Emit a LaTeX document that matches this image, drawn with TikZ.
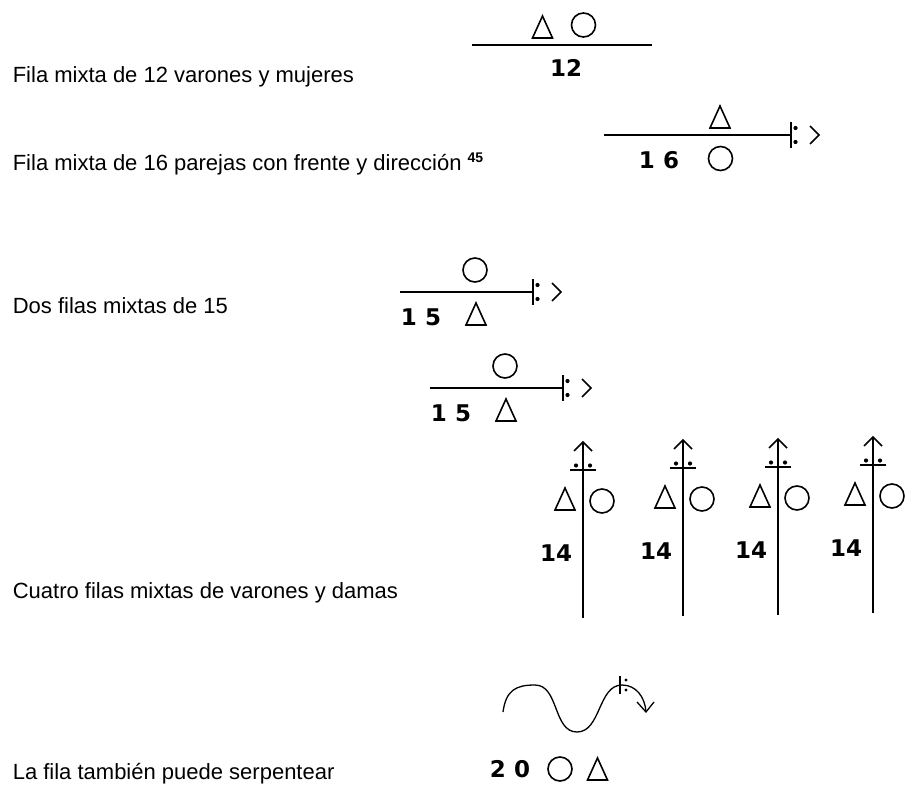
\documentclass[tikz,border=0pt]{standalone}
\usepackage{fontspec}
\setmainfont{Liberation Sans}
\newfontfamily\cifra{DejaVu Sans}
\tikzset{
  varon/.pic={\draw (-10,11)--(0,-11)--(10,11)--cycle;},
  dama/.pic={\draw (0,0) circle (12);},
  frente/.pic={
    \draw (0,-13)--(0,13);
    \fill (4.5,-7) circle (2.1) (4.5,7) circle (2.1);
    \draw (19,-9)--(28,0)--(19,9);},
  rotulo/.style={anchor=base west, inner sep=0pt, font=\fontsize{22}{26}\selectfont},
  num/.style={inner sep=0pt, font=\cifra\bfseries\fontsize{23}{23}\selectfont},
}
\begin{document}
\begin{tikzpicture}[x=1pt,y=-1pt,line width=1.6pt]
\useasboundingbox (0,0) rectangle (906,792);

\node[rotulo] (fila12) at (12,83) {Fila mixta de 12 varones y mujeres};
\node[rotulo] (fila16) at (12,170) {Fila mixta de 16 parejas con frente y dirección \raisebox{8pt}{\fontsize{14}{14}\selectfont\bfseries 45}};
\node[rotulo] (dos15) at (12,313) {Dos filas mixtas de 15};
\node[rotulo] (cuatro) at (12,598) {Cuatro filas mixtas de varones y damas};
\node[rotulo] (serp) at (12,779) {La fila también puede serpentear};

% fila de 12
\draw (472,45)--(652,45);
\pic at (542.5,27) {varon};
\pic at (583.5,25) {dama};
\node[num] (n12) at (566,68) {12};

% fila de 16
\draw (604,135)--(791,135);
\pic at (720,117) {varon};
\pic at (720.5,158.5) {dama};
\node[num] (n16) at (659,160) {1 6};
\pic at (791,135) {frente};

% dos filas de 15
\draw (400,292)--(533,292);
\pic at (475,270) {dama};
\pic at (476,314) {varon};
\node[num] (n15a) at (421,317) {1 5};
\pic at (533,292) {frente};

\draw (430,388)--(563,388);
\pic at (505,366) {dama};
\pic at (506,410) {varon};
\node[num] (n15b) at (451,413) {1 5};
\pic at (563,388) {frente};

% cuatro filas
\draw (583,443)--(583,618);
\pic[rotate=90] at (583,470) {frente};
\pic at (565,499) {varon};
\pic at (602,501) {dama};
\node[num] (n14a) at (556,553) {14};

\draw (683,441)--(683,616);
\pic[rotate=90] at (683,468) {frente};
\pic at (665,497) {varon};
\pic at (702,499) {dama};
\node[num] (n14b) at (656,551) {14};

\draw (778,440)--(778,615);
\pic[rotate=90] at (778,467) {frente};
\pic at (760,496) {varon};
\pic at (797,498) {dama};
\node[num] (n14c) at (751,550) {14};

\draw (873,438)--(873,613);
\pic[rotate=90] at (873,465) {frente};
\pic at (855,494) {varon};
\pic at (892,496) {dama};
\node[num] (n14d) at (846,548) {14};

% serpenteo
\draw[line width=1.3pt] (503,712) .. controls (506,690) and (516,685) .. (535,685)
  .. controls (559,685) and (553,732) .. (577,732)
  .. controls (601,732) and (598,685) .. (622,685)
  .. controls (636,685) and (645,697) .. (646,712);
\draw[line width=1.3pt] (637,702)--(646,712)--(654,702);
\draw[line width=1.3pt] (620,676)--(620,694);
\fill (626,680) circle (1.6) (626,690) circle (1.6);
\node[num] (n20) at (510,769) {2 0};
\pic at (560,769) {dama};
\pic at (597.5,769) {varon};
\end{tikzpicture}
\end{document}
